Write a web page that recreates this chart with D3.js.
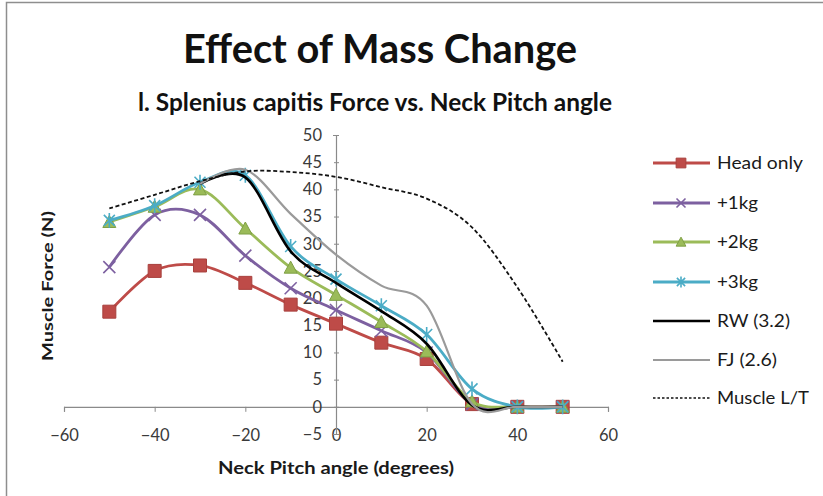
<!DOCTYPE html>
<html>
<head>
<meta charset="utf-8">
<script src="https://cdn.jsdelivr.net/npm/d3@7"></script>
<style>
  html, body { margin: 0; padding: 0; background: #fff; }
  svg { display: block; font-family: Lato, "Open Sans", sans-serif; }
</style>
</head>
<body>
<svg id="chart" width="823" height="496"></svg>
<script>
// Neck pitch angles (degrees)
const angles = [-50, -40, -30, -20, -10, 0, 10, 20, 30, 40, 50];
const anglesFrom30 = [-30, -20, -10, 0, 10, 20, 30, 40, 50];

// Splenius capitis muscle force (N)
const headOnly = [17.5, 25, 26, 22.8, 18.8, 15.3, 11.8, 8.8, 0.5, 0, 0];
const plus1kg  = [25.7, 35.3, 35.3, 27.8, 21.8, 17.8, 14, 10, 0.5, 0, 0];
const plus2kg  = [34, 36.8, 40, 32.8, 25.6, 20.6, 15.6, 10.2, 1, 0, 0];
const plus3kg  = [34.3, 37, 41.3, 42.6, 29.5, 23.5, 18.6, 13.3, 3.3, 0, 0];
const rw32     = [41, 42.2, 28.6, 22.8, 17.6, 11.6, 0.3, 0, 0];
const fj26     = [41, 43.6, 35.5, 28, 22.3, 18.6, 0.5, 0, 0];
const muscleLT = [36.5, 39, 41.5, 43.3, 43.2, 42.3, 40.4, 38.3, 33, 22, 8.3];

const xTicks = [-60, -40, -20, 0, 20, 40, 60];
const yTicks = [-5, 0, 5, 10, 15, 20, 25, 30, 35, 40, 45, 50];

const series = [
  { name: "Head only",   x: angles,       y: headOnly, color: "#BE4B48", width: 2.8, marker: "square",   legendWidth: 86 },
  { name: "+1kg",        x: angles,       y: plus1kg,  color: "#7D60A0", width: 2.8, marker: "cross",    legendWidth: 41 },
  { name: "+2kg",        x: angles,       y: plus2kg,  color: "#9BBB59", width: 2.8, marker: "triangle", legendWidth: 41 },
  { name: "+3kg",        x: angles,       y: plus3kg,  color: "#4BACC6", width: 2.8, marker: "star",     legendWidth: 41 },
  { name: "RW (3.2)",    x: anglesFrom30, y: rw32,     color: "#000000", width: 2.6, marker: null,       legendWidth: 73 },
  { name: "FJ (2.6)",    x: anglesFrom30, y: fj26,     color: "#9A9A9A", width: 2.2, marker: null,       legendWidth: 60 },
  { name: "Muscle L/T",  x: angles,       y: muscleLT, color: "#111111", width: 1.8, marker: null,       legendWidth: 92, dash: "4,2.5" }
];

const svg = d3.select("#chart");

// outer chart frame
svg.append("path")
  .attr("d", "M6.5,496 L6.5,2.5 L823,2.5")
  .attr("fill", "none").attr("stroke", "#8E8E8E").attr("stroke-width", 1.5);

const x = d3.scaleLinear().domain([-60, 60]).range([64, 608]);
const y = d3.scaleLinear().domain([-5, 50]).range([434, 135]);

const axisColor = "#8A8A8A";
const labelColor = "#3A3A3A";

// x axis along y = 0
const xAxis = svg.append("g")
  .attr("transform", `translate(0,${y(0)})`)
  .call(d3.axisBottom(x).tickValues(xTicks).tickSize(5).tickFormat(d3.format("d")));
xAxis.select(".domain").attr("stroke", axisColor).attr("stroke-width", 1.2);
xAxis.selectAll(".tick line").attr("stroke", axisColor);
xAxis.selectAll(".tick text")
  .attr("y", 22).attr("fill", labelColor)
  .style("font-size", "16.5px").style("font-family", "Lato, sans-serif");

// y axis along x = 0
const yAxis = svg.append("g")
  .attr("transform", `translate(${x(0)},0)`)
  .call(d3.axisLeft(y).tickValues(yTicks).tickSize(3).tickFormat(d3.format("d")));
yAxis.select(".domain").attr("stroke", axisColor).attr("stroke-width", 1.2);
yAxis.selectAll(".tick line").attr("stroke", axisColor).attr("x2", 3).attr("x1", -2);
yAxis.selectAll(".tick text")
  .attr("x", -14).attr("fill", labelColor)
  .style("font-size", "16.5px").style("font-family", "Lato, sans-serif");

// smoothed series lines
const line = d3.line()
  .x(d => x(d[0])).y(d => y(d[1]))
  .curve(d3.curveCatmullRom.alpha(0));

const plot = svg.append("g");
series.forEach(s => {
  const pts = s.x.map((v, i) => [v, s.y[i]]);
  plot.append("path")
    .datum(pts)
    .attr("d", line)
    .attr("fill", "none")
    .attr("stroke", s.color)
    .attr("stroke-width", s.width)
    .attr("stroke-linejoin", "round")
    .attr("stroke-dasharray", s.dash || null);
  if (s.marker) {
    plot.append("g").selectAll("path")
      .data(pts).join("path")
      .attr("transform", d => `translate(${x(d[0])},${y(d[1])})`)
      .each(function () { drawMarker(d3.select(this), s.marker, s.color, 1); });
  }
});

function drawMarker(sel, type, color, k) {
  if (type === "square") {
    const h = 6.5 * k;
    sel.attr("d", `M${-h},${-h}H${h}V${h}H${-h}Z`)
      .attr("fill", color).attr("stroke", "#A8403D").attr("stroke-width", 1);
  } else if (type === "triangle") {
    const h = 6.5 * k;
    sel.attr("d", `M0,${-h}L${h},${h * 0.85}L${-h},${h * 0.85}Z`)
      .attr("fill", color).attr("stroke", "#7FA045").attr("stroke-width", 1);
  } else if (type === "cross") {
    const h = 6 * k;
    sel.attr("d", `M${-h},${-h}L${h},${h}M${-h},${h}L${h},${-h}`)
      .attr("fill", "none").attr("stroke", color).attr("stroke-width", 1.6);
  } else if (type === "star") {
    const h = 5.5 * k;
    sel.attr("d", `M${-h},${-h}L${h},${h}M${-h},${h}L${h},${-h}M0,${-h * 1.35}V${h * 1.35}`)
      .attr("fill", "none").attr("stroke", color).attr("stroke-width", 1.6);
  }
}

// titles
svg.append("text")
  .attr("x", 380).attr("y", 63)
  .attr("text-anchor", "middle")
  .style("font-size", "41px").style("font-weight", "bold").attr("fill", "#111")
  .attr("textLength", 394).attr("lengthAdjust", "spacingAndGlyphs")
  .text("Effect of Mass Change");

svg.append("text")
  .attr("x", 375).attr("y", 111)
  .attr("text-anchor", "middle")
  .style("font-size", "24.5px").style("font-weight", "bold").attr("fill", "#111")
  .attr("textLength", 474).attr("lengthAdjust", "spacingAndGlyphs")
  .text("l. Splenius capitis Force vs. Neck Pitch angle");

svg.append("text")
  .attr("x", 336).attr("y", 474)
  .attr("text-anchor", "middle")
  .style("font-size", "16.5px").style("font-weight", "bold").attr("fill", "#1a1a1a")
  .attr("textLength", 236).attr("lengthAdjust", "spacingAndGlyphs")
  .text("Neck Pitch angle (degrees)");

svg.append("text")
  .attr("transform", "translate(53,286) rotate(-90)")
  .attr("text-anchor", "middle")
  .style("font-size", "15.5px").style("font-weight", "bold").attr("fill", "#1a1a1a")
  .attr("textLength", 150).attr("lengthAdjust", "spacingAndGlyphs")
  .text("Muscle Force (N)");

// legend
const legendRows = [163, 203, 242, 282, 321, 360, 398];
const legend = svg.append("g");
series.forEach((s, i) => {
  const ly = legendRows[i];
  legend.append("line")
    .attr("x1", 653).attr("x2", 710).attr("y1", ly).attr("y2", ly)
    .attr("stroke", s.color).attr("stroke-width", s.dash ? 1.5 : s.width)
    .attr("stroke-dasharray", s.dash ? "2.5,2" : null);
  if (s.marker) {
    legend.append("path")
      .attr("transform", `translate(681,${ly})`)
      .each(function () { drawMarker(d3.select(this), s.marker, s.color, 0.75); });
  }
  legend.append("text")
    .attr("x", 717).attr("y", ly + 6)
    .style("font-size", "17px").attr("fill", "#1a1a1a")
    .attr("textLength", s.legendWidth).attr("lengthAdjust", "spacingAndGlyphs")
    .text(s.name);
});
</script>
</body>
</html>
